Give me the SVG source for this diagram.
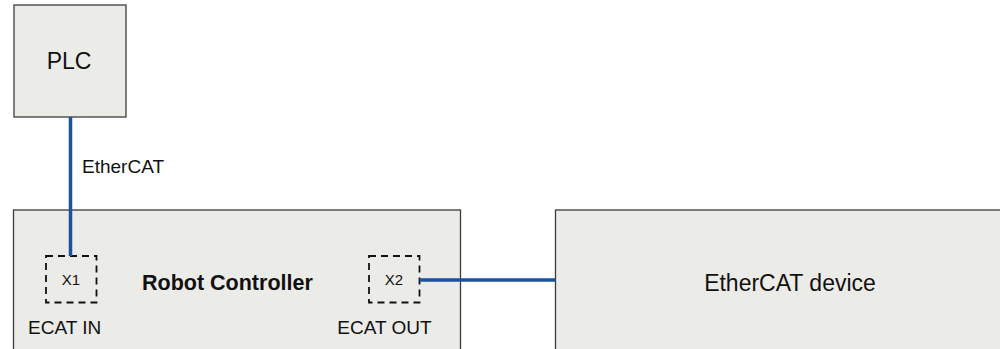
<svg xmlns="http://www.w3.org/2000/svg" width="1000" height="349" viewBox="0 0 1000 349">
  <style>
    .box { fill: #ebebe8; stroke: #3c3c3c; stroke-width: 1.3; }
    .port { fill: none; stroke: #111; stroke-width: 1.8; stroke-dasharray: 7 5; }
    .link { fill: none; stroke: #1a52a0; stroke-width: 3.5; }
    text { font-family: "Liberation Sans", Arial, sans-serif; fill: #111; }
    .big { font-size: 23px; }
    .mid { font-size: 19px; }
    .small { font-size: 15px; }
    .bold { font-size: 21.5px; font-weight: bold; }
  </style>

  <g id="plc">
    <rect class="box" x="14" y="5" width="112" height="112"/>
    <text class="big" x="69" y="68.5" text-anchor="middle">PLC</text>
  </g>

  <g id="robot-controller">
    <rect class="box" x="13.5" y="210" width="447" height="150"/>
    <text class="bold" x="142" y="289.5">Robot Controller</text>
    <g id="port-x1">
      <rect class="port" x="46" y="256" width="50.5" height="46.5"/>
      <text class="small" x="71" y="284.5" text-anchor="middle">X1</text>
      <text class="mid" x="28" y="333.5">ECAT IN</text>
    </g>
    <g id="port-x2">
      <rect class="port" x="369" y="256" width="50.5" height="46.5"/>
      <text class="small" x="394" y="284.5" text-anchor="middle">X2</text>
      <text class="mid" x="384.5" y="333.5" text-anchor="middle">ECAT OUT</text>
    </g>
  </g>

  <g id="ethercat-device">
    <rect class="box" x="555.5" y="210" width="460" height="150"/>
    <text class="big" x="790" y="291" text-anchor="middle">EtherCAT device</text>
  </g>

  <g id="connectors">
    <line class="link" x1="70.5" y1="117" x2="70.5" y2="256"/>
    <text class="mid" x="82" y="172.5">EtherCAT</text>
    <line class="link" x1="419.5" y1="280" x2="555.5" y2="280"/>
  </g>
</svg>
